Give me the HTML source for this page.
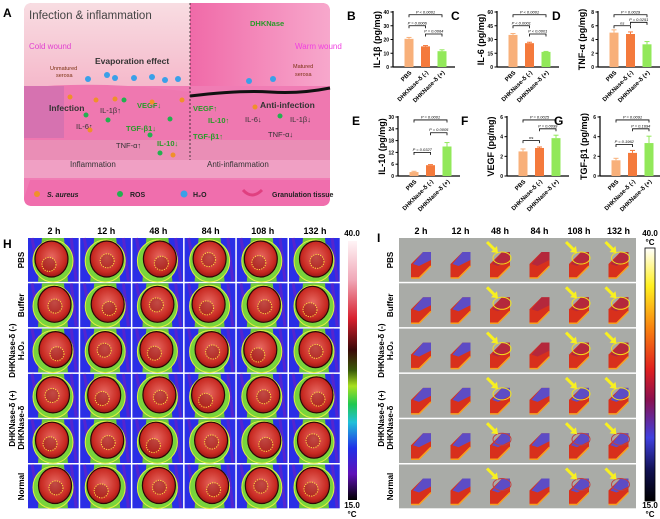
<!DOCTYPE html>
<html><head><meta charset="utf-8">
<style>
html,body{margin:0;padding:0;background:#fff;}
svg{display:block;font-family:"Liberation Sans",Arial,sans-serif;}
</style></head>
<body>
<svg id="fig" width="660" height="519" viewBox="0 0 660 519" xmlns="http://www.w3.org/2000/svg">
<defs>
 <linearGradient id="gL" x1="0" y1="0" x2="0" y2="1"><stop offset="0" stop-color="#f8dde2"/><stop offset="1" stop-color="#f5b9cb"/></linearGradient>
 <linearGradient id="gR" x1="0" y1="0" x2="1" y2="0"><stop offset="0" stop-color="#f06aa8"/><stop offset="1" stop-color="#f7a8cc"/></linearGradient>
 <radialGradient id="gRed" cx="0.5" cy="0.45" r="0.6"><stop offset="0" stop-color="#e86a62"/><stop offset="0.7" stop-color="#c82a22"/><stop offset="1" stop-color="#8a1010"/></radialGradient>
 <linearGradient id="cbH" x1="0" y1="0" x2="0" y2="1">
  <stop offset="0" stop-color="#fff4f6"/><stop offset="0.15" stop-color="#f0a8b8"/><stop offset="0.3" stop-color="#d8202e"/><stop offset="0.42" stop-color="#3a0808"/><stop offset="0.5" stop-color="#3a5a08"/><stop offset="0.56" stop-color="#a8e020"/><stop offset="0.63" stop-color="#20c850"/><stop offset="0.7" stop-color="#20c0d8"/><stop offset="0.8" stop-color="#2030e8"/><stop offset="0.9" stop-color="#6010b8"/><stop offset="1" stop-color="#000"/></linearGradient>
 <linearGradient id="cbI" x1="0" y1="0" x2="0" y2="1">
  <stop offset="0" stop-color="#ffffff"/><stop offset="0.15" stop-color="#fff020"/><stop offset="0.32" stop-color="#f88010"/><stop offset="0.48" stop-color="#e02020"/><stop offset="0.6" stop-color="#8a1050"/><stop offset="0.75" stop-color="#4040e0"/><stop offset="0.88" stop-color="#101050"/><stop offset="1" stop-color="#000"/></linearGradient>
</defs>

<g>
 <text x="3" y="17" font-size="12" font-weight="bold">A</text>
 <rect x="24" y="3" width="306" height="203" rx="8" fill="#f07cb4"/>
 <path d="M32,3 H190 V86 H24 V11 Q24,3 32,3Z" fill="url(#gL)"/>
 <path d="M190,3 H322 Q330,3 330,11 V86 H190Z" fill="url(#gR)"/>
 <path d="M24,88 Q100,80 190,92 Q260,96 330,88 V165 H24Z" fill="#ef78b0"/>
 <rect x="24" y="140" width="306" height="22" fill="#e894b8" opacity="0.8"/>
 <rect x="24" y="160" width="306" height="18" fill="#f0a0c4"/>
 <path d="M190,96 Q240,90 270,92 Q300,94 330,88" stroke="#111" stroke-width="3" fill="none"/>
 <rect x="24" y="86" width="40" height="52" fill="#d070b0" opacity="0.8"/>
 <line x1="190" y1="3" x2="190" y2="160" stroke="#222" stroke-dasharray="2,2" stroke-width="0.8"/>
 <path d="M30,180 H330 V198 Q330,206 322,206 H32 Q24,206 24,198Z" fill="#f06ead"/>
 <text x="29" y="19" font-size="11.5" fill="#444">Infection &amp; inflammation</text>
 <text x="29" y="49" font-size="8" fill="#e040d0">Cold wound</text>
 <text x="95" y="64" font-size="8.5" font-weight="bold" fill="#333">Evaporation effect</text>
 <text x="50" y="70" font-size="5.5" fill="#7a3010">Unmatured</text>
 <text x="56" y="77" font-size="5.5" fill="#7a3010">serosa</text>
 <text x="49" y="111" font-size="8.5" font-weight="bold" fill="#333">Infection</text>
 <text x="100" y="113" font-size="7.5" fill="#333">IL-1β↑</text>
 <text x="76" y="129" font-size="7.5" fill="#333">IL-6↑</text>
 <text x="137" y="108" font-size="7.5" font-weight="bold" fill="#2a9a2a">VEGF↓</text>
 <text x="126" y="131" font-size="7.5" font-weight="bold" fill="#2a9a2a">TGF-β1↓</text>
 <text x="157" y="146" font-size="7.5" font-weight="bold" fill="#2a9a2a">IL-10↓</text>
 <text x="116" y="148" font-size="7.5" fill="#333">TNF-α↑</text>
 <text x="70" y="167" font-size="8" fill="#333">Inflammation</text>
 <text x="250" y="26" font-size="7.5" font-weight="bold" fill="#2a9a2a">DHKNase</text>
 <text x="295" y="49" font-size="8" fill="#f040e0">Warm wound</text>
 <text x="293" y="68" font-size="5.5" fill="#7a3010">Matured</text>
 <text x="295" y="76" font-size="5.5" fill="#7a3010">serosa</text>
 <text x="193" y="111" font-size="7.5" font-weight="bold" fill="#2a9a2a">VEGF↑</text>
 <text x="208" y="123" font-size="7.5" font-weight="bold" fill="#2a9a2a">IL-10↑</text>
 <text x="193" y="139" font-size="7.5" font-weight="bold" fill="#2a9a2a">TGF-β1↑</text>
 <text x="260" y="108" font-size="8.5" font-weight="bold" fill="#333">Anti-infection</text>
 <text x="245" y="122" font-size="7.5" fill="#333">IL-6↓</text>
 <text x="290" y="122" font-size="7.5" fill="#333">IL-1β↓</text>
 <text x="268" y="137" font-size="7.5" fill="#333">TNF-α↓</text>
 <text x="207" y="167" font-size="8" fill="#333">Anti-inflammation</text>
 <g fill="#3aa0e8">
  <circle cx="88" cy="79" r="3"/><circle cx="107" cy="75" r="3"/><circle cx="115" cy="78" r="3"/><circle cx="134" cy="78" r="3"/><circle cx="152" cy="77" r="3"/><circle cx="165" cy="80" r="3"/><circle cx="178" cy="79" r="3"/><circle cx="249" cy="81" r="3"/><circle cx="273" cy="79" r="3"/>
 </g>
 <g fill="#f0902a">
  <circle cx="70" cy="97" r="2.5"/><circle cx="96" cy="100" r="2.5"/><circle cx="115" cy="99" r="2.5"/><circle cx="152" cy="102" r="2.5"/><circle cx="182" cy="100" r="2.5"/><circle cx="90" cy="130" r="2.5"/><circle cx="173" cy="155" r="2.5"/><circle cx="255" cy="107" r="2.5"/>
 </g>
 <g fill="#22b050">
  <circle cx="86" cy="115" r="2.5"/><circle cx="108" cy="120" r="2.5"/><circle cx="124" cy="100" r="2.5"/><circle cx="170" cy="119" r="2.5"/><circle cx="150" cy="135" r="2.5"/><circle cx="160" cy="153" r="2.5"/><circle cx="280" cy="116" r="2.5"/>
 </g>
 <g font-size="7" font-weight="bold" fill="#222">
  <circle cx="37" cy="194" r="3" fill="#f0902a"/><text x="47" y="197" font-style="italic">S. aureus</text>
  <circle cx="120" cy="194" r="3" fill="#22b050"/><text x="130" y="197">ROS</text>
  <circle cx="184" cy="194" r="3.5" fill="#3aa0e8"/><text x="193" y="197">H₂O</text>
  <path d="M243,190 Q252,200 262,190" stroke="#e04080" stroke-width="3" fill="none"/><text x="272" y="197">Granulation tissue</text>
 </g>
</g>

<g id="bars"></g>
<g id="panelH"></g>
<g id="panelI"></g>
</svg>

<script>
const categories=["PBS","DHKNase-δ (-)","DHKNase-δ (+)"];
const il1bValues=[20.5,15,11.5];
const il1bErrors=[1,0.6,1];
const il6Values=[35,26,16.5];
const il6Errors=[1.5,1,0.5];
const tnfValues=[5,4.8,3.3];
const tnfErrors=[0.4,0.3,0.4];
const il10Values=[2,5.5,15];
const il10Errors=[0.4,0.3,2];
const vegfValues=[2.5,2.85,3.85];
const vegfErrors=[0.25,0.1,0.3];
const tgfValues=[1.6,2.35,3.35];
const tgfErrors=[0.2,0.25,0.7];
const il1bTicks=[0,10,20,30,40];
const il6Ticks=[0,15,30,45,60];
const tnfTicks=[0,2,4,6,8];
const il10Ticks=[0,6,12,18,24,30];
const vegfTicks=[0,2,4,6];
const tgfTicks=[0,2,4,6];
const il1bBrackets=[[0,2,38,"P < 0.0001"],[0,1,30,"P = 0.0006"],[1,2,24,"P = 0.0064"]];
const il6Brackets=[[0,2,57,"P < 0.0001"],[0,1,45,"P < 0.0001"],[1,2,36,"P < 0.0001"]];
const tnfBrackets=[[0,2,7.6,"P = 0.0029"],[0,1,6,"ns"],[1,2,6.5,"P = 0.0251"]];
const il10Brackets=[[0,2,28.5,"P = 0.0001"],[1,2,22,"P = 0.0005"],[0,1,12,"P = 0.0327"]];
const vegfBrackets=[[0,2,5.7,"P = 0.0025"],[1,2,4.8,"P = 0.0099"],[0,1,3.6,"ns"]];
const tgfBrackets=[[0,2,5.7,"P = 0.0091"],[1,2,4.8,"P = 0.1694"],[0,1,3.2,"P = 0.1962"]];
const timeLabels=["2 h","12 h","48 h","84 h","108 h","132 h"];
// [text, x-offset from grid, row-center]
const groupLabels=[["PBS",-5,0],["Buffer",-5,1],["DHKNase-δ (-)",-14,2],["H₂O₂",-5,2],["DHKNase-δ (+)",-14,3.5],["DHKNase-δ",-5,3.7],["Normal",-5,5]];

const NS="http://www.w3.org/2000/svg";
function mk(tag,attrs,parent,txt){const e=document.createElementNS(NS,tag);for(const k in attrs)e.setAttribute(k,attrs[k]);if(txt!==undefined)e.textContent=txt;parent.appendChild(e);return e;}
const colors=["#f8b07a","#f47a3c","#92e85a"];
const barsG=document.getElementById("bars");
const charts=[
 {letter:"B",label:"IL-1β (pg/mg)",ax:393,top:12,bot:67,vals:il1bValues,errs:il1bErrors,ticks:il1bTicks,br:il1bBrackets,name:"il1b"},
 {letter:"C",label:"IL-6 (pg/mg)",ax:497,top:12,bot:67,vals:il6Values,errs:il6Errors,ticks:il6Ticks,br:il6Brackets,name:"il6"},
 {letter:"D",label:"TNF-α (pg/mg)",ax:598,top:12,bot:67,vals:tnfValues,errs:tnfErrors,ticks:tnfTicks,br:tnfBrackets,name:"tnf"},
 {letter:"E",label:"IL-10 (pg/mg)",ax:398,top:117,bot:176,vals:il10Values,errs:il10Errors,ticks:il10Ticks,br:il10Brackets,name:"il10"},
 {letter:"F",label:"VEGF (pg/mg)",ax:507,top:117,bot:176,vals:vegfValues,errs:vegfErrors,ticks:vegfTicks,br:vegfBrackets,name:"vegf"},
 {letter:"G",label:"TGF-β1 (pg/mg)",ax:600,top:117,bot:176,vals:tgfValues,errs:tgfErrors,ticks:tgfTicks,br:tgfBrackets,name:"tgf"}
];
charts.forEach(c=>{
 const g=mk("g",{},barsG);
 
 
 const max=c.ticks[c.ticks.length-1];
 const y=v=>c.bot-(v/max)*(c.bot-c.top);
 const x=i=>c.ax+16+i*16.5;
 const L=mk("text",{x:c.ax-46,y:c.top+8,"font-size":12,"font-weight":"bold"},g,c.letter);
 
 
 mk("line",{x1:c.ax,y1:c.top-1,x2:c.ax,y2:c.bot,stroke:"#000","stroke-width":1.2},g);
 mk("line",{x1:c.ax,y1:c.bot,x2:c.ax+62,y2:c.bot,stroke:"#000","stroke-width":1.2},g);
 c.ticks.forEach(t=>{
  mk("line",{x1:c.ax-2.5,y1:y(t),x2:c.ax,y2:y(t),stroke:"#000"},g);
  const tt=mk("text",{x:c.ax-4,y:y(t)+2,"font-size":5,"font-weight":"bold","text-anchor":"end"},g,t);
  
  
 });
 const yl=mk("text",{x:0,y:0,"font-size":9,"font-weight":"bold","text-anchor":"middle",transform:`translate(${c.ax-13},${(c.top+c.bot)/2}) rotate(-90)`},g,c.label);
 
 
 c.vals.forEach((v,i)=>{
  const r=mk("rect",{x:x(i)-4.5,y:y(v),width:9,height:c.bot-y(v),fill:colors[i]},g);
  
  
  const e=c.errs[i];
  mk("line",{x1:x(i),y1:y(v),x2:x(i),y2:y(v+e),stroke:colors[i],"stroke-width":1},g);
  mk("line",{x1:x(i)-2.5,y1:y(v+e),x2:x(i)+2.5,y2:y(v+e),stroke:colors[i],"stroke-width":1},g);
  const xl=mk("text",{x:0,y:0,"font-size":6,"font-weight":"bold","text-anchor":"end",transform:`translate(${x(i)+3},${c.bot+6}) rotate(-45)`},g,categories[i]);
  
  
 });
 c.br.forEach(b=>{
  const yy=y(b[2]);
  mk("path",{d:`M${x(b[0])},${yy+2.5} V${yy} H${x(b[1])} V${yy+2.5}`,stroke:"#000",fill:"none","stroke-width":0.8},g);
  const pt=mk("text",{x:(x(b[0])+x(b[1]))/2,y:yy-1.5,"font-size":4,"font-style":"italic","text-anchor":"middle"},g,b[3]);
  
  
 });
});

const cw=52.2, ch=45.3, hx=28, hy=238;
function rowLabels(parent,gx){
 groupLabels.forEach(l=>{
  const rl=mk("text",{x:0,y:0,"font-size":8,"font-weight":"bold","text-anchor":"middle",transform:`translate(${gx+l[1]},${hy+l[2]*ch+22}) rotate(-90)`},parent,l[0]);
  
  
 });
}

// Panel H
const H=document.getElementById("panelH");
mk("text",{x:3,y:248,"font-size":12,"font-weight":"bold"},H,"H");
timeLabels.forEach((t,c)=>{
 const tl=mk("text",{x:hx+c*cw+26,y:234,"font-size":9,"font-weight":"bold","text-anchor":"middle"},H,t);
 
 
});
rowLabels(H,hx+1);
const jit=[[-3,4],[3,-2],[5,2],[0,-4],[-2,1],[4,-1]];
for(let r=0;r<6;r++){
 for(let c=0;c<6;c++){
  const x=hx+c*cw, y=hy+r*ch, j=jit[(r+c)%6];
  const g=mk("g",{},H);
  
  
  mk("rect",{x:x,y:y,width:cw-1.5,height:ch-1.5,fill:"#2a2ee6"},g);
  mk("path",{d:`M${x+4},${y} L${x+12},${y+ch-2} M${x+cw-9},${y} L${x+cw-4},${y+ch-2}`,stroke:"#7020c0","stroke-width":3,opacity:0.6},g);
  mk("path",{d:`M${x+14},${y} L${x+36},${y} L${x+40},${y+ch-1.5} L${x+10},${y+ch-1.5}Z`,fill:"#6cc83a"},g);
  mk("ellipse",{cx:x+25,cy:y+23,rx:20,ry:21,fill:"#78d43c",stroke:"#e0f040","stroke-width":1},g);
  mk("ellipse",{cx:x+25+j[0]*0.5,cy:y+21,rx:16.5,ry:18,fill:"url(#gRed)",stroke:"#2a0808","stroke-width":1.2},g);
  mk("circle",{cx:x+24+j[0],cy:y+24+j[1]*0.6,r:7,fill:"#7a1010",opacity:0.35},g);
  mk("circle",{cx:x+24+j[0],cy:y+24+j[1]*0.6,r:7,fill:"none",stroke:"#ffe040","stroke-width":1,"stroke-dasharray":"1.2,1.2"},g);
 }
}
mk("rect",{x:348,y:241,width:9,height:259,fill:"url(#cbH)"},H);
mk("text",{x:352,y:236,"font-size":8,"font-weight":"bold","text-anchor":"middle"},H,"40.0");
mk("text",{x:352,y:508,"font-size":8,"font-weight":"bold","text-anchor":"middle"},H,"15.0");
mk("text",{x:352,y:517,"font-size":8,"font-weight":"bold","text-anchor":"middle"},H,"°C");

// Panel I
const I=document.getElementById("panelI");
mk("text",{x:377,y:242,"font-size":12,"font-weight":"bold"},I,"I");
const ix=399, iw=237, icw=iw/6;
timeLabels.forEach((t,c)=>{
 const tl=mk("text",{x:ix+c*icw+22,y:234,"font-size":9,"font-weight":"bold","text-anchor":"middle"},I,t);
 
 
});
for(let r=0;r<6;r++){
 const y=hy+r*ch;
 const row=mk("rect",{x:ix,y:y,width:iw,height:ch-1.5,fill:"#a9aba7"},I);
 
 
 for(let c=0;c<6;c++){
  const x=ix+c*icw+12, by=y+40;
  const g=mk("g",{},I);
  
  
  mk("path",{d:`M${x},${by} L${x},${by-14} L${x+12},${by-26} L${x+20},${by-26} L${x+20},${by-12} L${x+8},${by}Z`,fill:"#d8301c"},g);
  mk("path",{d:`M${x+2},${by-14} L${x+12},${by-26} L${x+20},${by-26} L${x+20},${by-18} L${x+8},${by-12}Z`,fill:(c<2||r>=3)?"#5050d8":"#b02840",opacity:0.9},g);
  mk("path",{d:`M${x},${by} L${x+8},${by} L${x+20},${by-12}`,stroke:"#f8a020","stroke-width":1.5,fill:"none"},g);
  if(c===2||c===4||c===5){
   mk("ellipse",{cx:x+12,cy:by-20,rx:9,ry:6,fill:"none",stroke:r>=4?"#c04040":"#f0e020","stroke-width":1},g);
   mk("path",{d:`M${x-3},${y+4} L${x+5},${y+12}`,stroke:"#f8f020","stroke-width":3},g);
   mk("path",{d:`M${x+1},${y+14} L${x+8},${y+15} L${x+7},${y+8}Z`,fill:"#f8f020"},g);
  }
 }
}
rowLabels(I,ix-1);
mk("rect",{x:645,y:248,width:10,height:253,fill:"url(#cbI)",stroke:"#000","stroke-width":0.8},I);
mk("text",{x:650,y:236,"font-size":8,"font-weight":"bold","text-anchor":"middle"},I,"40.0");
mk("text",{x:650,y:245,"font-size":8,"font-weight":"bold","text-anchor":"middle"},I,"°C");
mk("text",{x:650,y:508,"font-size":8,"font-weight":"bold","text-anchor":"middle"},I,"15.0");
mk("text",{x:650,y:517,"font-size":8,"font-weight":"bold","text-anchor":"middle"},I,"°C");
</script>
</body></html>
